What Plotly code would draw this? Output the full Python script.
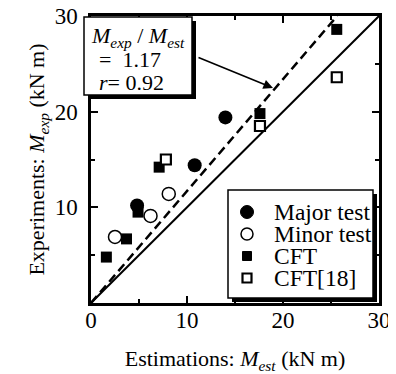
import plotly.graph_objects as go

# ---- data ----
major_x = [4.8, 10.8, 14.0]
major_y = [10.2, 14.4, 19.4]
minor_x = [2.5, 6.2, 8.1]
minor_y = [6.9, 9.1, 11.4]
cft_x = [1.6, 3.7, 4.9, 7.1, 17.6, 25.6]
cft_y = [4.8, 6.7, 9.5, 14.2, 19.8, 28.6]
cft18_x = [7.8, 17.6, 25.6]
cft18_y = [15.0, 18.5, 23.6]
ratio = 1.17
r_value = 0.92
axis_max = 30
x_ticks = [0, 10, 20, 30]
y_ticks = [10, 20, 30]
minor_ticks = [5, 15, 25]
series_names = ["Major test", "Minor test", "CFT", "CFT[18]"]

FONT = "Liberation Serif, Times New Roman, serif"
OFF = 8  # page body margin of the written html
WIN_W, WIN_H = 396, 374
W, H = WIN_W - OFF, WIN_H - OFF
# plot area in window pixels: x 91..379, y 16..303
ML, MR, MT, MB = 91 - OFF, WIN_W - 379, 16 - OFF, WIN_H - 303
PW, PH = W - ML - MR, H - MT - MB


def px(xp):
    """window pixel x -> paper x"""
    return (xp - OFF - ML) / PW


def py(yp):
    """window pixel y -> paper y"""
    return (OFF + MT + PH - yp) / PH


fig = go.Figure()

# reference lines
fig.add_trace(go.Scatter(x=[0, axis_max], y=[0, axis_max], mode="lines",
                         line=dict(color="black", width=2), showlegend=False, hoverinfo="skip"))
fig.add_trace(go.Scatter(x=[0, axis_max / ratio], y=[0, axis_max], mode="lines",
                         line=dict(color="black", width=2.5, dash="9px,5px"),
                         showlegend=False, hoverinfo="skip"))

# data
fig.add_trace(go.Scatter(x=major_x, y=major_y, mode="markers", name=series_names[0],
                         marker=dict(symbol="circle", size=14, color="black"), showlegend=False))
fig.add_trace(go.Scatter(x=cft_x, y=cft_y, mode="markers", name=series_names[2],
                         marker=dict(symbol="square", size=11, color="black"), showlegend=False))
fig.add_trace(go.Scatter(x=minor_x, y=minor_y, mode="markers", name=series_names[1],
                         marker=dict(symbol="circle", size=13, color="white",
                                     line=dict(color="black", width=1.5)), showlegend=False))
fig.add_trace(go.Scatter(x=cft18_x, y=cft18_y, mode="markers", name=series_names[3],
                         marker=dict(symbol="square", size=10, color="white",
                                     line=dict(color="black", width=2.2)), showlegend=False))

shapes = []
annotations = []

# ---- annotation box with drop shadow ----
bx0, bx1, by0, by1 = 84, 192, 17, 95
sh = 4
shapes.append(dict(type="rect", xref="paper", yref="paper", layer="above",
                   x0=px(bx0 + sh), x1=px(bx1 + sh), y0=py(by1 + sh), y1=py(by0 + sh),
                   fillcolor="black", line=dict(width=0)))
shapes.append(dict(type="rect", xref="paper", yref="paper", layer="above",
                   x0=px(bx0), x1=px(bx1), y0=py(by1), y1=py(by0),
                   fillcolor="white", line=dict(color="black", width=1.5)))

box_lines = [
    ("<i>M</i><sub><i>exp</i></sub> / <i>M</i><sub><i>est</i></sub>", 89, 37),
    ("=  %.2f" % ratio, 97, 60),
    ("<i>r</i>= %.2f" % r_value, 97, 82),
]
for txt, xl, yc in box_lines:
    annotations.append(dict(text=txt, xref="paper", yref="paper", x=px(xl), y=py(yc),
                            xanchor="left", yanchor="middle", showarrow=False,
                            font=dict(family=FONT, size=22, color="black")))

# arrow from the box to the dashed line
annotations.append(dict(text="", xref="paper", yref="paper", x=px(273), y=py(88),
                        axref="pixel", ayref="pixel", ax=197 - 273, ay=57 - 88,
                        showarrow=True, arrowhead=2, arrowsize=1.2, arrowwidth=1.6,
                        arrowcolor="black"))

# ---- legend box with drop shadow ----
lx0, lx1, ly0, ly1 = 228, 373, 190, 298
shapes.append(dict(type="rect", xref="paper", yref="paper", layer="above",
                   x0=px(lx0 + sh), x1=px(lx1 + sh), y0=py(ly1 + sh), y1=py(ly0 + sh),
                   fillcolor="black", line=dict(width=0)))
shapes.append(dict(type="rect", xref="paper", yref="paper", layer="above",
                   x0=px(lx0), x1=px(lx1), y0=py(ly1), y1=py(ly0),
                   fillcolor="white", line=dict(color="black", width=1.5)))

rows = [212, 234, 256, 278]
mx = 247
# legend symbols
r = 6.5
shapes.append(dict(type="circle", xref="paper", yref="paper", layer="above",
                   x0=px(mx - r), x1=px(mx + r), y0=py(rows[0] + r), y1=py(rows[0] - r),
                   fillcolor="black", line=dict(color="black", width=1)))
r = 6
shapes.append(dict(type="circle", xref="paper", yref="paper", layer="above",
                   x0=px(mx - r), x1=px(mx + r), y0=py(rows[1] + r), y1=py(rows[1] - r),
                   fillcolor="white", line=dict(color="black", width=1.5)))
s = 4.5
shapes.append(dict(type="rect", xref="paper", yref="paper", layer="above",
                   x0=px(mx - s), x1=px(mx + s), y0=py(rows[2] + s), y1=py(rows[2] - s),
                   fillcolor="black", line=dict(color="black", width=1)))
s = 4.5
shapes.append(dict(type="rect", xref="paper", yref="paper", layer="above",
                   x0=px(mx - s), x1=px(mx + s), y0=py(rows[3] + s), y1=py(rows[3] - s),
                   fillcolor="white", line=dict(color="black", width=2.2)))
for name, yc in zip(series_names, rows):
    annotations.append(dict(text=name, xref="paper", yref="paper", x=px(272), y=py(yc),
                            xanchor="left", yanchor="middle", showarrow=False,
                            font=dict(family=FONT, size=23.5, color="black")))

axis_common = dict(
    range=[0, axis_max], showgrid=False, zeroline=False, automargin=False,
    showline=True, linecolor="black", linewidth=2.5, mirror="allticks",
    ticks="inside", ticklen=7, tickwidth=2, tickcolor="black",
    ticklabeloverflow="allow",
    tickfont=dict(family=FONT, size=23, color="black"),
    minor=dict(tickvals=minor_ticks, ticks="inside", ticklen=4, tickwidth=2, tickcolor="black"),
)

fig.update_layout(
    template="none",
    width=W, height=H,
    margin=dict(l=ML, r=MR, t=MT, b=MB, autoexpand=False),
    paper_bgcolor="white", plot_bgcolor="white",
    font=dict(family=FONT, color="black"),
    xaxis=dict(**axis_common, tickvals=x_ticks, ticktext=[str(v) for v in x_ticks],
               ticklabelstandoff=-5,
               title=dict(text="Estimations: <i>M</i><sub><i>est</i></sub> (kN m)",
                          font=dict(family=FONT, size=22, color="black"), standoff=21)),
    yaxis=dict(**axis_common, tickvals=y_ticks, ticktext=[str(v) for v in y_ticks],
               ticklabelstandoff=6,
               title=dict(text="Experiments: <i>M</i><sub><i>exp</i></sub> (kN m)",
                          font=dict(family=FONT, size=22, color="black"), standoff=4)),
    shapes=shapes, annotations=annotations, showlegend=False,
)

fig.write_html("out.html")
